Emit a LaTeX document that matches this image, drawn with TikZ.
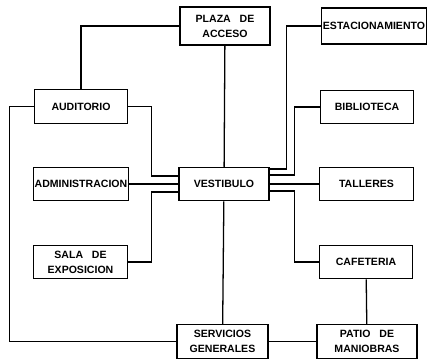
\documentclass[tikz,border=0pt]{standalone}
\usepackage{fontspec}
\setmainfont{Liberation Sans}
\usetikzlibrary{positioning}

\begin{document}
\begin{tikzpicture}[
    x=0.03cm, y=-0.03cm,
    room/.style={draw, line width=1pt, minimum width=2.8cm, minimum height=1cm,
                 inner sep=1pt, align=center, font=\bfseries\fontsize{9}{12.8}\selectfont},
    link/.style={line width=1.1pt},
]
    \useasboundingbox (0,0) rectangle (427,358);

    \node[room, minimum width=2.7cm, minimum height=1.14cm] (plaza) at (225,26) {PLAZA\ \ \ DE\\ACCESO};
    \node[room, minimum width=3.1cm, minimum height=1.08cm] (estac) at (374,26) {ESTACIONAMIENTO};
    \node[room] (audit)  at (81,106.5) {AUDITORIO};
    \node[room] (biblio) at (367,107)  {BIBLIOTECA};
    \node[room] (admin)  at (81,184)   {ADMINISTRACION};
    \node[room, minimum width=2.7cm] (vest) at (224,184) {VESTIBULO};
    \node[room] (taller) at (366.5,184) {TALLERES};
    \node[room] (sala)   at (80.5,262)  {SALA\ \ \ DE\\EXPOSICION};
    \node[room] (cafe)   at (366,262)   {CAFETERIA};
    \node[room, minimum width=2.73cm] (serv) at (222.5,341.5) {SERVICIOS\\GENERALES};
    \node[room, minimum width=3cm] (patio) at (367,341.5) {PATIO\ \ \ DE\\MANIOBRAS};

    % accesos
    \draw[link] (plaza.west) -| (audit.north);
    \draw[link] (plaza) -- (vest);
    \draw[link] (estac.west) -| ([shift={(17,-15)}]vest.east) -- ([shift={(0,-15)}]vest.east);
    \draw[link] (biblio.west) -| ([shift={(25,-9)}]vest.east) -- ([shift={(0,-9)}]vest.east);
    \draw[link] (vest) -- (taller);
    \draw[link] (cafe.west) -| ([shift={(25,7)}]vest.east) -- ([shift={(0,7)}]vest.east);
    \draw[link] (audit.east) -| ([shift={(-27,-8)}]vest.west) -- ([shift={(0,-8)}]vest.west);
    \draw[link] (admin) -- (vest);
    \draw[link] (sala.east) -| ([shift={(-27,8)}]vest.west) -- ([shift={(0,8)}]vest.west);

    % servicios
    \draw[link] (audit.west) -- ++(-24,0) |- (serv.west);
    \draw[link] (vest) -- (serv);
    \draw[link] (cafe) -- (patio);
    \draw[link] (serv) -- (patio);
\end{tikzpicture}
\end{document}
